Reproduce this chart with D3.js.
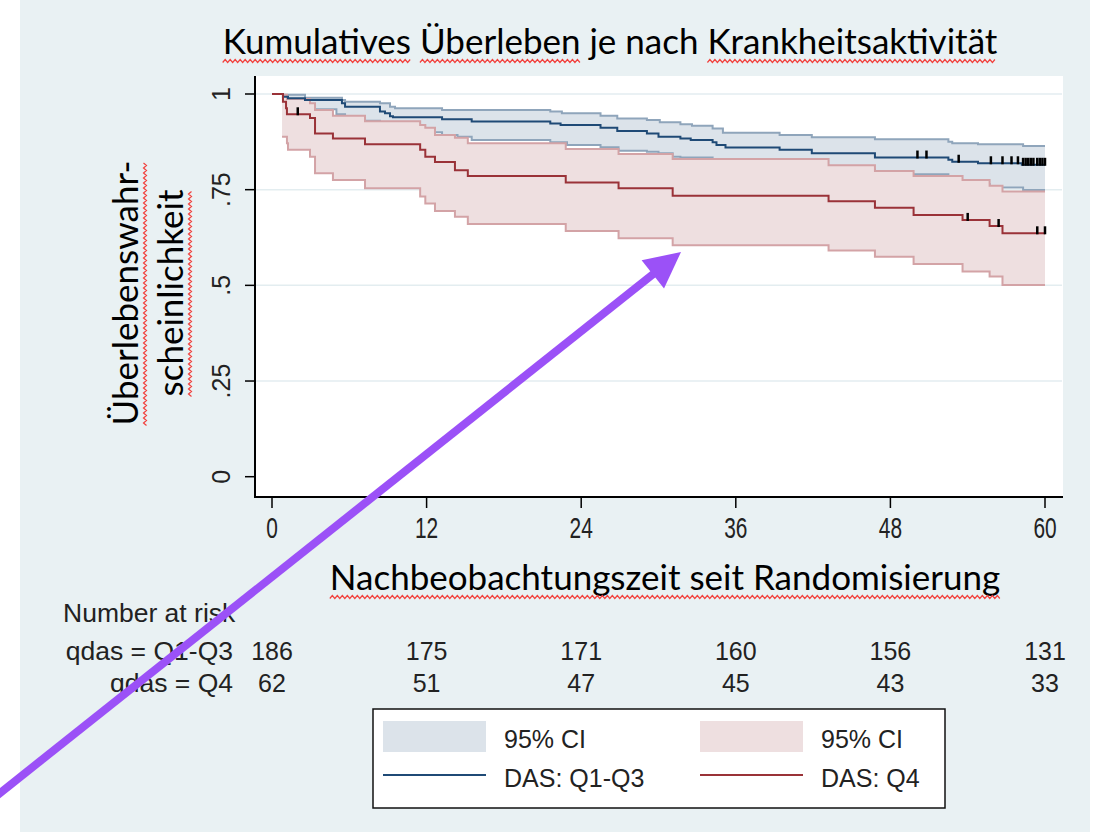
<!DOCTYPE html>
<html>
<head>
<meta charset="utf-8">
<script src="https://cdn.jsdelivr.net/npm/d3@7"></script>
<style>
  body { margin: 0; background: #fff; }
  svg { display: block; }
</style>
</head>
<body>
<div id="chart"></div>
<script>
// months since randomisation / survival probability
var timeTicks = [0, 12, 24, 36, 48, 60];
var survTicks = [0, 0.25, 0.5, 0.75, 1];
var survTickLabels = ["0", ".25", ".5", ".75", "1"];

var kmQ13 = [[0,1],[0.85,0.993],[1.24,0.989],[2.56,0.984],[5.43,0.976],[5.67,0.967],[8.38,0.954],[8.77,0.950],
  [9.16,0.942],[9.39,0.939],[13.2,0.934],[15.5,0.928],[21.6,0.923],[22.4,0.919],[25.5,0.912],[26.8,0.903],
  [29.1,0.897],[30.0,0.888],[31.7,0.884],[32.5,0.880],[34.2,0.874],[34.5,0.867],[35.2,0.860],[39.4,0.854],
  [41.9,0.845],[46.8,0.834],[52.5,0.828],[52.8,0.823],[54.8,0.819],[58.2,0.815]];
var upperQ13 = [[0.85,0.998],[2.56,0.990],[5.43,0.984],[5.67,0.980],[8.38,0.976],[9.16,0.967],[9.55,0.963],
  [13.2,0.958],[21.6,0.954],[22.5,0.950],[25.5,0.943],[26.8,0.936],[29.1,0.932],[30.1,0.926],[31.7,0.921],
  [32.6,0.917],[34.2,0.910],[35.0,0.899],[39.4,0.893],[41.9,0.887],[46.8,0.882],[52.5,0.875],[52.8,0.871],
  [54.8,0.869],[58.3,0.864]];
var lowerQ13 = [[0.85,0.975],[1.24,0.968],[2.56,0.960],[5.0,0.947],[5.67,0.930],[8.38,0.915],[9.16,0.900],
  [13.2,0.893],[14.4,0.888],[15.5,0.880],[21.6,0.874],[22.9,0.867],[25.5,0.861],[26.9,0.852],[29.1,0.849],
  [30.0,0.845],[31.1,0.836],[31.7,0.834],[34.2,0.826],[35.2,0.818],[39.4,0.810],[41.9,0.803],[46.8,0.790],
  [52.5,0.780],[52.8,0.774],[54.8,0.765],[55.7,0.756],[58.3,0.749]];
var censQ13 = [50.1, 50.8, 53.3, 55.8, 56.7, 57.4, 57.9, 58.3, 58.5, 58.7, 58.9, 59.1, 59.4, 59.6, 59.8, 60];

var kmQ4 = [[0,1],[0.85,0.980],[1.09,0.963],[1.16,0.947],[2.95,0.937],[3.34,0.897],[4.73,0.884],[7.22,0.869],
  [11.5,0.854],[11.9,0.836],[12.65,0.822],[14.2,0.801],[15.2,0.786],[22.8,0.769],[26.9,0.754],[31.1,0.734],
  [43.2,0.720],[46.8,0.703],[49.8,0.684],[53.6,0.671],[55.7,0.655],[56.7,0.636]];
var upperQ4 = [[0.78,0.998],[1.16,0.987],[2.95,0.976],[3.34,0.958],[4.73,0.943],[7.22,0.929],[11.5,0.919],
  [11.9,0.912],[12.65,0.893],[14.2,0.886],[15.2,0.871],[22.8,0.856],[26.9,0.843],[31.1,0.830],[43.2,0.814],
  [46.8,0.799],[49.8,0.786],[53.6,0.775],[55.7,0.760],[56.7,0.745]];
var lowerQ4 = [[0.78,0.888],[1.16,0.871],[1.24,0.854],[2.95,0.836],[3.34,0.793],[4.73,0.775],[7.22,0.754],
  [11.5,0.732],[11.9,0.714],[12.65,0.694],[14.2,0.679],[15.2,0.660],[22.8,0.642],[26.9,0.623],[31.1,0.605],
  [43.2,0.591],[46.8,0.575],[49.8,0.556],[53.6,0.536],[55.7,0.523],[56.7,0.501]];
var censQ4 = [2.0, 54.0, 56.4, 59.4, 60];

var riskGroups = ["qdas = Q1-Q3", "qdas = Q4"];
var riskQ13 = [186, 175, 171, 160, 156, 131];
var riskQ4 = [62, 51, 47, 45, 43, 33];
var legendLabels = ["95% CI", "DAS: Q1-Q3", "95% CI", "DAS: Q4"];

var w = 1102;
var h = 832;
var blueLine = "#1f4a76";
var redLine = "#9a3238";
var blueFill = "#dce3ea";
var redFill = "#eedfe0";
var blueEdge = "#8fa5bb";
var redEdge = "#d3a3a6";
var arial = "'Liberation Sans', Arial, sans-serif";
var calibri = "Lato, 'Open Sans', sans-serif";

var svg = d3.select("#chart")
    .append("svg")
    .attr("width", w)
    .attr("height", h);

svg.append("rect")
    .attr("x", 20).attr("y", 0)
    .attr("width", 1070).attr("height", h)
    .attr("fill", "#e9f1f3");

// plot region
svg.append("rect")
    .attr("x", 255).attr("y", 76)
    .attr("width", 808).attr("height", 421)
    .attr("fill", "#fff");

var x = d3.scaleLinear().domain([0, 60]).range([272, 1045]);
var y = d3.scaleLinear().domain([0, 1]).range([476.7, 94]);

// grid
svg.selectAll("line.grid")
    .data(survTicks.filter(function(d) { return d > 0; }))
    .enter()
    .append("line")
    .attr("class", "grid")
    .attr("x1", 256).attr("x2", 1062)
    .attr("y1", function(d) { return y(d); })
    .attr("y2", function(d) { return y(d); })
    .style("stroke", "#e3edf0")
    .style("stroke-width", 1.5);

function stepAt(arr, t) {
  var v = arr[0][1];
  arr.forEach(function(d) { if (d[0] <= t) v = d[1]; });
  return v;
}

function band(lower, upper) {
  var times = Array.from(d3.union(lower.map(function(d) { return d[0]; }),
                                  upper.map(function(d) { return d[0]; }))).sort(d3.ascending);
  times.push(60);
  return times.map(function(t) { return { t: t, lo: stepAt(lower, t), hi: stepAt(upper, t) }; });
}

function toEnd(arr) {
  return arr.concat([[60, arr[arr.length - 1][1]]]);
}

var area = d3.area()
    .curve(d3.curveStepAfter)
    .x(function(d) { return x(d.t); })
    .y0(function(d) { return y(d.lo); })
    .y1(function(d) { return y(d.hi); });

var step = d3.line()
    .curve(d3.curveStepAfter)
    .x(function(d) { return x(d[0]); })
    .y(function(d) { return y(d[1]); });

function drawBand(lower, upper, fill, edge) {
  svg.append("path")
      .attr("d", area(band(lower, upper)))
      .attr("fill", fill);
  [lower, upper].forEach(function(arr) {
    svg.append("path")
        .attr("d", step(toEnd(arr)))
        .attr("fill", "none")
        .style("stroke", edge)
        .style("stroke-width", 2);
  });
}

drawBand(lowerQ13, upperQ13, blueFill, blueEdge);
drawBand(lowerQ4, upperQ4, redFill, redEdge);

svg.append("path")
    .attr("d", step(toEnd(kmQ13)))
    .attr("fill", "none")
    .style("stroke", blueLine)
    .style("stroke-width", 2);

svg.append("path")
    .attr("d", step(toEnd(kmQ4)))
    .attr("fill", "none")
    .style("stroke", redLine)
    .style("stroke-width", 2);

// censoring ticks
function drawCens(times, km) {
  svg.selectAll(null)
      .data(times)
      .enter()
      .append("line")
      .attr("x1", function(d) { return x(d); })
      .attr("x2", function(d) { return x(d); })
      .attr("y1", function(d) { return y(stepAt(km, d)) + 1; })
      .attr("y2", function(d) { return y(stepAt(km, d)) - 7; })
      .style("stroke", "#000")
      .style("stroke-width", 2.5);
}
drawCens(censQ13, kmQ13);
drawCens(censQ4, kmQ4);

// axes
svg.append("line")
    .attr("x1", 255).attr("x2", 255)
    .attr("y1", 76).attr("y2", 498)
    .style("stroke", "#000").style("stroke-width", 2);
svg.append("line")
    .attr("x1", 254).attr("x2", 1063)
    .attr("y1", 497).attr("y2", 497)
    .style("stroke", "#000").style("stroke-width", 2);

svg.selectAll("line.ytick")
    .data(survTicks)
    .enter()
    .append("line")
    .attr("x1", 245).attr("x2", 255)
    .attr("y1", function(d) { return y(d); })
    .attr("y2", function(d) { return y(d); })
    .style("stroke", "#000").style("stroke-width", 1.5);

svg.selectAll("text.ylab")
    .data(survTicks)
    .enter()
    .append("text")
    .attr("transform", function(d) { return "translate(230," + y(d) + ") rotate(-90)"; })
    .attr("text-anchor", "middle")
    .style("font-family", arial)
    .style("font-size", "25px")
    .style("fill", "#222")
    .text(function(d, i) { return survTickLabels[i]; });

svg.selectAll("line.xtick")
    .data(timeTicks)
    .enter()
    .append("line")
    .attr("x1", function(d) { return x(d); })
    .attr("x2", function(d) { return x(d); })
    .attr("y1", 497).attr("y2", 508)
    .style("stroke", "#000").style("stroke-width", 1.5);

svg.selectAll("text.xlab")
    .data(timeTicks)
    .enter()
    .append("text")
    .attr("transform", function(d) { return "translate(" + x(d) + ",538) scale(0.72,1)"; })
    .attr("text-anchor", "middle")
    .style("font-family", arial)
    .style("font-size", "29px")
    .style("fill", "#222")
    .text(function(d) { return d; });

// red spell-check squiggle
function squiggle(g, x0, x1, yy) {
  var pts = [];
  var k = 0;
  for (var xx = x0; xx <= x1; xx += 2.5) {
    pts.push([xx, yy + (k % 2 === 0 ? 1.5 : -1.5)]);
    k++;
  }
  g.append("path")
      .attr("d", d3.line()(pts))
      .attr("fill", "none")
      .style("stroke", "#f2413d")
      .style("stroke-width", 1.2);
}

function wordLine(g, txt, text, words, dy) {
  var node = txt.node();
  var total = node.getComputedTextLength();
  var start = -total / 2;
  words.forEach(function(wd) {
    var i = text.indexOf(wd);
    var a = i > 0 ? node.getSubStringLength(0, i) : 0;
    var b = node.getSubStringLength(i, wd.length);
    squiggle(g, start + a, start + a + b, dy);
  });
}

function label(tx, ty, rot, text, words) {
  var g = svg.append("g")
      .attr("transform", "translate(" + tx + "," + ty + ")" + (rot ? " rotate(" + rot + ")" : ""));
  var t = g.append("text")
      .attr("text-anchor", "middle")
      .style("font-family", calibri)
      .style("font-size", "35px")
      .style("fill", "#000")
      .text(text);
  wordLine(g, t, text, words, 7);
}

label(610, 54, 0, "Kumulatives Überleben je nach Krankheitsaktivität",
      ["Kumulatives", "Überleben", "Krankheitsaktivität"]);
label(665, 590, 0, "Nachbeobachtungszeit seit Randomisierung",
      ["Nachbeobachtungszeit seit Randomisierung"]);
label(138, 293, -90, "Überlebenswahr-", ["Überlebenswahr-"]);
label(183, 293, -90, "scheinlichkeit", ["scheinlichkeit"]);

// number at risk table
svg.append("text")
    .attr("x", 63).attr("y", 622)
    .style("font-family", arial).style("font-size", "26.5px").style("fill", "#222")
    .text("Number at risk");

[riskQ13, riskQ4].forEach(function(row, r) {
  var by = 660 + r * 32;
  svg.append("text")
      .attr("x", 233).attr("y", by)
      .attr("text-anchor", "end")
      .style("font-family", arial).style("font-size", "26.5px").style("fill", "#222")
      .text(riskGroups[r]);
  svg.selectAll(null)
      .data(row)
      .enter()
      .append("text")
      .attr("x", function(d, i) { return x(timeTicks[i]); })
      .attr("y", by)
      .attr("text-anchor", "middle")
      .style("font-family", arial).style("font-size", "25px").style("fill", "#222")
      .text(function(d) { return d; });
});

// legend
var lg = svg.append("g");
lg.append("rect")
    .attr("x", 373).attr("y", 709)
    .attr("width", 572).attr("height", 99)
    .attr("fill", "#fff")
    .style("stroke", "#111").style("stroke-width", 1.5);

var legendCols = [383, 700];
[[blueFill, blueLine], [redFill, redLine]].forEach(function(c, i) {
  var lx = legendCols[i];
  lg.append("rect")
      .attr("x", lx).attr("y", 721)
      .attr("width", 103).attr("height", 31)
      .attr("fill", c[0]);
  lg.append("line")
      .attr("x1", lx).attr("x2", lx + 103)
      .attr("y1", 775).attr("y2", 775)
      .style("stroke", c[1]).style("stroke-width", 2);
  lg.append("text")
      .attr("x", lx + 121).attr("y", 748)
      .style("font-family", arial).style("font-size", "25px").style("fill", "#222")
      .text(legendLabels[i * 2]);
  lg.append("text")
      .attr("x", lx + 121).attr("y", 787)
      .style("font-family", arial).style("font-size", "25px").style("fill", "#222")
      .text(legendLabels[i * 2 + 1]);
});

// purple annotation arrow
var ax0 = -5, ay0 = 797, ax1 = 681, ay1 = 252;
var len = Math.sqrt((ax1 - ax0) * (ax1 - ax0) + (ay1 - ay0) * (ay1 - ay0));
var ux = (ax1 - ax0) / len, uy = (ay1 - ay0) / len;
var headL = 36, headW = 18;
var bx = ax1 - ux * headL, by = ay1 - uy * headL;
svg.append("line")
    .attr("x1", ax0).attr("y1", ay0)
    .attr("x2", bx + ux * 2).attr("y2", by + uy * 2)
    .style("stroke", "#9b51f7")
    .style("stroke-width", 8);
svg.append("path")
    .attr("d", d3.line()([[ax1, ay1], [bx - uy * headW, by + ux * headW], [bx + uy * headW, by - ux * headW]]) + "Z")
    .attr("fill", "#9b51f7");
</script>
</body>
</html>
